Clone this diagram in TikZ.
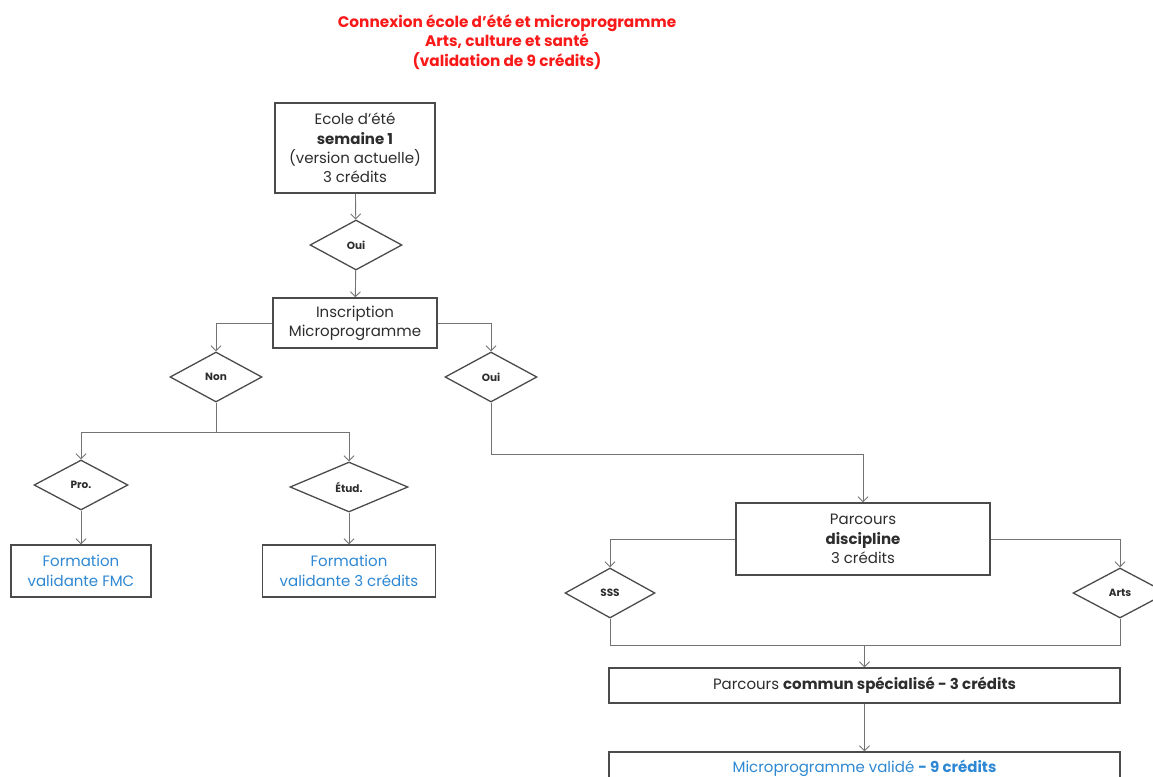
\documentclass[tikz,border=0pt]{standalone}
\usepackage{fontspec}
\setmainfont{Poppins}
\usetikzlibrary{arrows.meta,shapes.geometric,positioning}
\definecolor{titlered}{RGB}{250,25,25}
\definecolor{linkblue}{RGB}{45,135,210}
\definecolor{linegray}{RGB}{115,115,115}
\definecolor{boxgray}{RGB}{75,75,75}
\definecolor{textgray}{RGB}{45,45,45}

\begin{document}
\begin{tikzpicture}[x=1pt,y=1pt,>={Straight Barb[length=5pt,width=10pt]},
                    every node/.style={font=\fontsize{15}{19.3}\selectfont,text=textgray},
                    box/.style={rectangle,draw=boxgray,line width=1.3pt,align=center,inner sep=0pt},
                    choice/.style={diamond,draw=boxgray,line width=1.3pt,inner sep=0pt,
                      minimum width=92pt,minimum height=50pt,font=\fontsize{10.5}{12}\selectfont\bfseries},
                    link/.style={->,draw=linegray,line width=0.9pt},
                    plain/.style={draw=linegray,line width=0.9pt}]
  \useasboundingbox (0,0) rectangle (1153,-776);
  \clip (0,0) rectangle (1153,-776);

  \node[font=\fontsize{15.3}{19.3}\selectfont\bfseries,text=titlered,align=center] (title) at (507,-42)
    {Connexion école d'été et microprogramme\\Arts, culture et santé\\(validation de 9 crédits)};

  \node[box,minimum width=160pt,minimum height=90pt] (ecole) at (355,-148)
    {Ecole d'été\\\textbf{semaine 1}\\(version actuelle)\\3 crédits};
  \node[choice] (oui1) at (356,-245) {Oui};
  \node[box,minimum width=164pt,minimum height=50pt] (inscr) at (355,-323) {Inscription\\Microprogramme};
  \node[choice] (non) at (216,-377) {Non};
  \node[choice] (oui2) at (491,-377) {Oui};
  \node[choice,minimum width=94pt] (pro) at (81,-485) {Pro.};
  \node[choice,minimum width=118pt] (etud) at (349,-487) {Étud.};
  \node[box,minimum width=140pt,minimum height=52pt,text=linkblue] (fmc) at (81,-571) {Formation\\validante FMC};
  \node[box,minimum width=173pt,minimum height=52pt,text=linkblue] (credits) at (349,-571) {Formation\\validante 3 crédits};
  \node[box,minimum width=254pt,minimum height=72pt] (disc) at (863,-539) {Parcours\\\textbf{discipline}\\3 crédits};
  \node[choice,minimum width=90pt] (sss) at (610,-593) {SSS};
  \node[choice,minimum width=94pt] (arts) at (1120,-593) {Arts};
  \node[box,minimum width=511pt,minimum height=35pt] (commun) at (864.5,-685.5)
    {Parcours \textbf{commun spécialisé - 3 crédits}};
  \node[box,minimum width=511pt,minimum height=32pt,text=linkblue] (valide) at (864.5,-768)
    {Microprogramme validé \textbf{- 9 crédits}};

  \coordinate (nonsplit) at (216,-432);
  \coordinate (ouibend) at (491,-454);
  \coordinate (merge) at (864.5,-645);

  \draw[link] (ecole) -- (oui1);
  \draw[link] (oui1) -- (inscr);
  \draw[link] (inscr.west) -| (non.north);
  \draw[link] (inscr.east) -| (oui2.north);
  \draw[plain] (non.south) -- (nonsplit);
  \draw[link] (nonsplit) -| (pro.north);
  \draw[link] (nonsplit) -| (etud.north);
  \draw[link] (pro) -- (fmc);
  \draw[link] (etud) -- (credits);
  \draw[link] (oui2.south) -- (ouibend) -| (disc.north);
  \draw[link] (disc.west) -| (sss.north);
  \draw[link] (disc.east) -| (arts.north);
  \draw[plain] (sss.south) |- (merge);
  \draw[plain] (arts.south) |- (merge);
  \draw[link] (merge) -- (commun);
  \draw[link] (commun) -- (valide);
\end{tikzpicture}
\end{document}
